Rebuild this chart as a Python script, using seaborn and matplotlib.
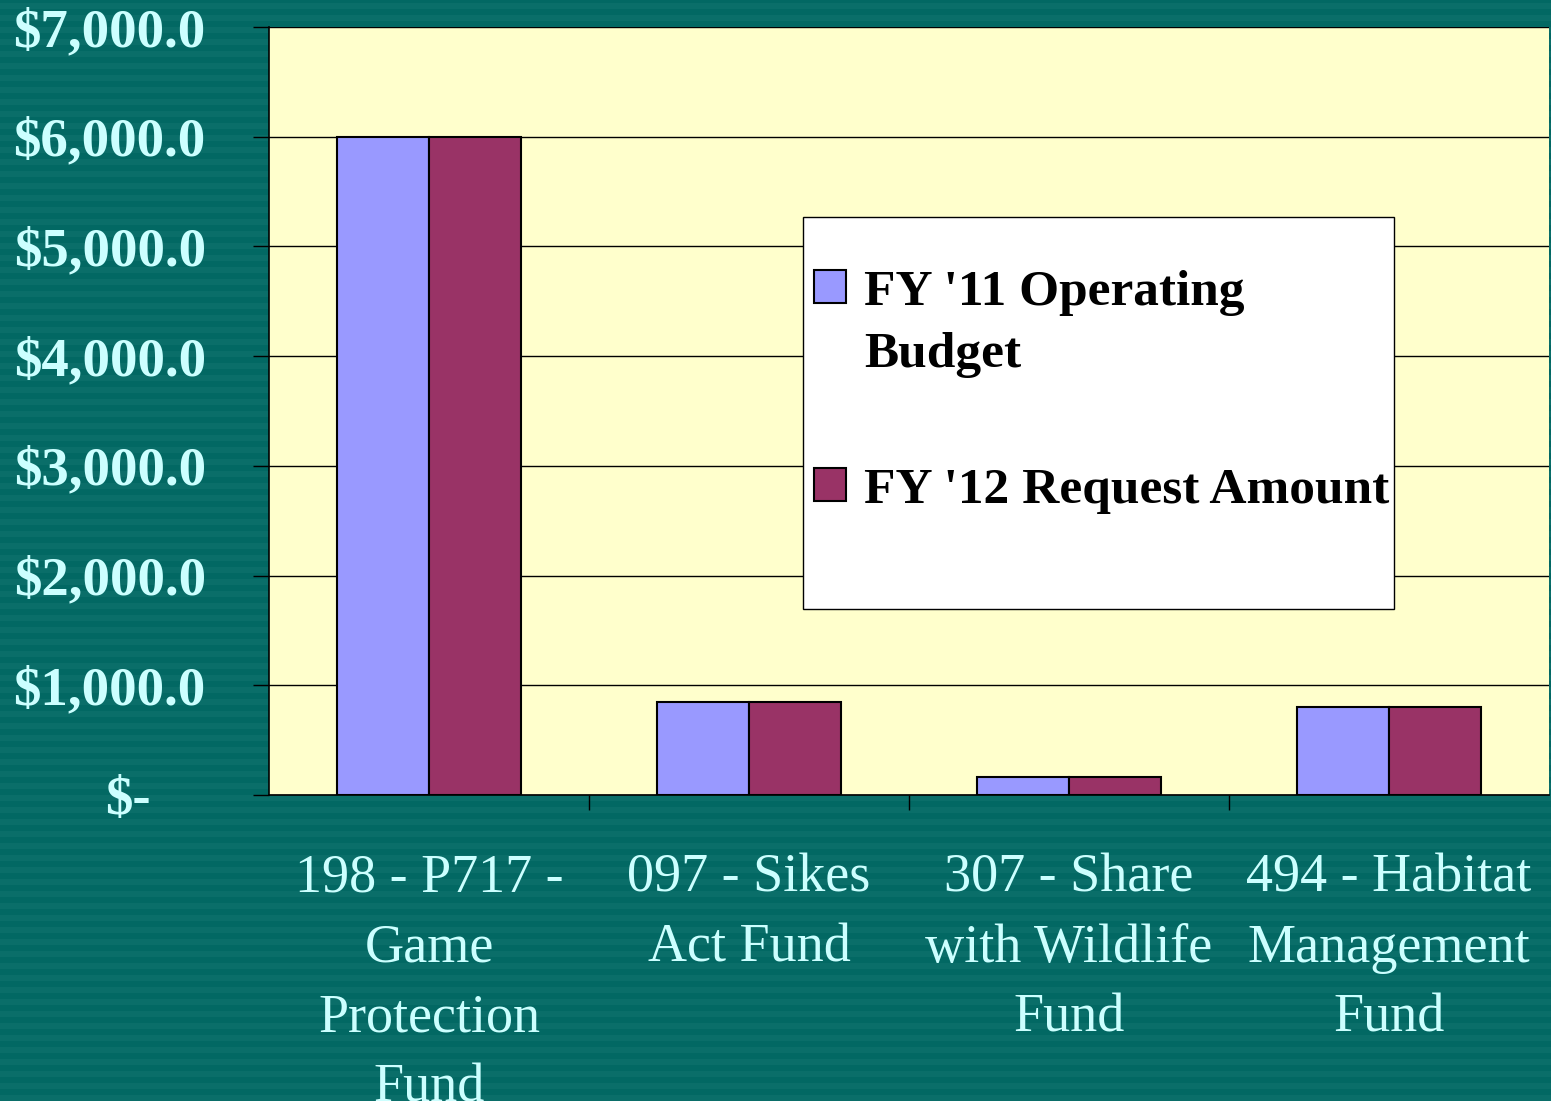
import numpy as np
import pandas as pd
import seaborn as sns
import matplotlib
matplotlib.use('Agg')
import matplotlib.pyplot as plt
from matplotlib.patches import Rectangle
import matplotlib.transforms as mtransforms

funds = ['198 - P717 -\nGame\nProtection\nFund', '097 - Sikes\nAct Fund',
         '307 - Share\nwith Wildlife\nFund', '494 - Habitat\nManagement\nFund']
series = ["FY '11 Operating Budget", "FY '12 Request Amount"]
fy11 = [6000, 850, 165, 805]
fy12 = [6000, 850, 165, 805]
y_ticks = [0, 1000, 2000, 3000, 4000, 5000, 6000, 7000]

df = pd.DataFrame({
    'fund': funds * 2,
    'series': [series[0]] * 4 + [series[1]] * 4,
    'amount': fy11 + fy12,
})

sns.set_theme(style='white')
plt.rcParams['font.family'] = ['Liberation Serif', 'DejaVu Serif']

W, H = 1551, 1101
fig = plt.figure(figsize=(15.51, 11.01), dpi=100)
fig.patch.set_facecolor('#026863')
# striped slide background
for yy in range(0, H, 12):
    fig.add_artist(Rectangle((0, yy / H), 1, 6 / H, transform=fig.transFigure,
                             facecolor='#0a6e69', edgecolor='none', zorder=-1))

ax = fig.add_axes([269 / W, 1 - 795 / H, (1549 - 269) / W, (795 - 27) / H])
ax.set_facecolor('#FFFFCC')

sns.barplot(data=df, x='fund', y='amount', hue='series',
            palette=['#9999FF', '#993366'], width=0.575,
            edgecolor='black', linewidth=1.5, saturation=1, ax=ax)

ax.set_ylim(0, 7000)
ax.set_xlim(-0.5, 3.5)
ax.set_yticks(y_ticks)
ax.set_yticklabels(['$-'] + ['${:,.1f}'.format(v) for v in y_ticks[1:]])
ax.yaxis.grid(True, color='black', linewidth=1)
ax.set_axisbelow(True)
ax.set_xlabel('')
ax.set_ylabel('')

for s in ['top', 'right']:
    ax.spines[s].set_visible(False)
for s in ['left', 'bottom']:
    ax.spines[s].set_color('black')
    ax.spines[s].set_linewidth(1.2)

ax.tick_params(axis='y', direction='out', length=11.5, width=1, color='black',
               pad=34, left=True, labelsize=39.5, labelcolor='#CCFFFF')
for lab in ax.get_yticklabels():
    lab.set_fontweight('bold')
# accounting style: zero label sits further left
zero_lab = ax.get_yticklabels()[0]
zero_lab.set_transform(zero_lab.get_transform() +
                       mtransforms.ScaledTranslation(-55 / 100, 0, fig.dpi_scale_trans))

ax.set_xticks([0, 1, 2, 3])
ax.set_xticklabels(funds)
ax.tick_params(axis='x', which='major', length=0, pad=42, labelsize=39,
               labelcolor='#CCFFFF')
for lab in ax.get_xticklabels():
    lab.set_linespacing(1.5)
    lab.set_verticalalignment('top')
ax.set_xticks([0.5, 1.5, 2.5], minor=True)
ax.tick_params(axis='x', which='minor', direction='out', length=11, width=1,
               color='black', bottom=True)

# legend
handles, labels = ax.get_legend_handles_labels()
leg = ax.legend(handles, ["FY '11 Operating\nBudget", "FY '12 Request Amount"],
                loc='upper left', bbox_to_anchor=(814 / W, 1 - 270 / H),
                bbox_transform=fig.transFigure, frameon=False,
                prop={'family': 'Liberation Serif', 'weight': 'bold', 'size': 37},
                handlelength=0.62, handleheight=0.62, handletextpad=0.35,
                labelspacing=1.75, borderpad=0, borderaxespad=0, labelcolor='black')
for t in leg.get_texts():
    t.set_linespacing(1.45)
# keep each swatch level with the first line of its label
for col in leg._legend_handle_box.get_children():
    for row in col.get_children():
        row.align = 'top'
ax.add_artist(Rectangle((803 / W, 1 - 609 / H), (1394 - 803) / W, (609 - 217) / H,
                        transform=fig.transFigure, facecolor='white',
                        edgecolor='black', linewidth=1, zorder=4.5, clip_on=False))

fig.savefig('out.png', dpi=100, facecolor=fig.get_facecolor())
